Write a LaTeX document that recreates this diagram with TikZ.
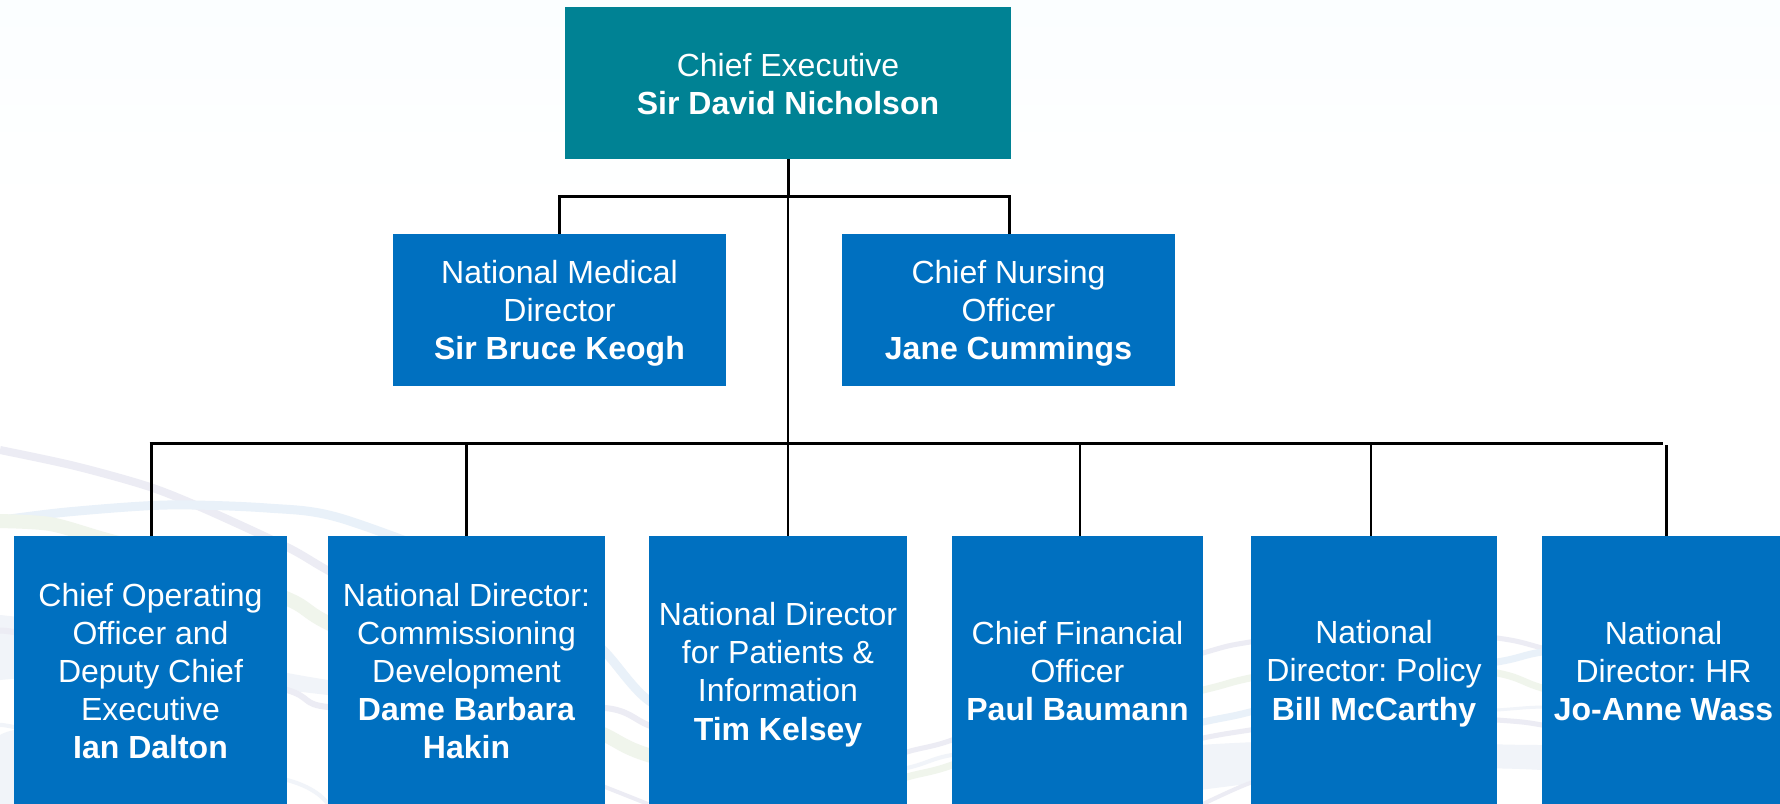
\documentclass[tikz,border=0pt]{standalone}
\usepackage{fontspec}
\setmainfont{Liberation Sans}
\definecolor{teal1}{HTML}{008294}
\definecolor{blue1}{HTML}{0070C0}
\definecolor{swL}{HTML}{ECECF4}
\definecolor{swB}{HTML}{E9F1F9}
\definecolor{swG}{HTML}{F0F5EC}
\definecolor{swP}{HTML}{F1F4F9}
\definecolor{bgtop}{HTML}{FBFEFF}
\tikzset{
  box/.style={draw=none,fill=blue1,text=white,inner sep=0pt,align=center,
    font=\fontsize{32bp}{38.2bp}\selectfont\frenchspacing,rectangle},
  heavy/.style={draw=black,line width=3.4bp},
  mid/.style={draw=black,line width=3bp},
  thin1/.style={draw=black,line width=2.4bp},
  swoosh/.style={line width=#1,line cap=butt},
  swoosh/.default=8bp
}
\newcommand{\dn}[1]{\rule{0pt}{\dimexpr 23.4bp+#1bp+#1bp\relax}}
\newcommand{\boxat}[7]{% name x0 y0 x1 y1 text style
  \node[box,#7,minimum width=#4bp-#2bp,minimum height=#5bp-#3bp] (#1) at ({(#2+#4)/2},{(#3+#5)/2}) {#6};}
\begin{document}
\begin{tikzpicture}[x=1bp,y=-1bp]
\useasboundingbox (0,0) rectangle (1780,804);
\fill[white] (0,0) rectangle (1780,804);
\shade[top color=bgtop,bottom color=white] (0,0) rectangle (1780,210);
% background swooshes
\fill[swP] (0,615) .. controls (100,625) and (200,660) .. (328,680) -- (328,695) .. controls (200,680) and (100,670) .. (0,680) -- cycle;
\fill[swP] (0,735) .. controls (5,732) and (10,731) .. (14,730) -- (14,804) -- (0,804) -- cycle;
\fill[swP] (1200,745) .. controls (1350,735) and (1450,745) .. (1542,745) -- (1542,770) .. controls (1450,765) and (1350,770) .. (1200,790) -- cycle;
\draw[swoosh=8bp,swL] plot[smooth] coordinates {(0,450) (75,466) (150,487) (207,510) (287,547) (327,570) (400,610)};
\draw[swoosh=9bp,swB] plot[smooth] coordinates {(-5,521) (67,512) (167,505) (267,508) (340,518) (480,570) (560,610) (605,652) (648,700) (720,740)};
\draw[swoosh=14bp,swG] plot[smooth] coordinates {(-5,521) (50,524) (107,540) (200,565) (290,600) (328,623) (450,680) (560,715) (605,735) (648,755) (780,790)};
\draw[swoosh=6bp,swL] plot[smooth] coordinates {(0,632) (14,632) (150,655) (287,690) (328,707) (480,710) (605,708) (648,725) (700,745)};
\draw[swoosh=5bp,swL] plot[smooth] coordinates {(860,770) (907,752) (952,740) (1050,700) (1203,653) (1250,642) (1370,625) (1497,638) (1542,648) (1620,670)};
\draw[swoosh=4bp,swP] plot[smooth] coordinates {(800,790) (907,768) (952,755) (1050,745)};
\draw[swoosh=7bp,swG] plot[smooth] coordinates {(850,795) (907,777) (952,765) (1050,725) (1203,690) (1250,678) (1370,655) (1497,673) (1542,688) (1640,715)};
\draw[swoosh=7bp,swB] plot[smooth] coordinates {(1050,755) (1203,722) (1250,712) (1370,680) (1497,662) (1542,652) (1640,640)};
\draw[swoosh=5bp,swL] plot[smooth] coordinates {(1100,760) (1203,738) (1250,730) (1370,712) (1497,720) (1542,725) (1640,745)};
\draw[swoosh=3bp,swP] plot[smooth] coordinates {(1300,725) (1497,710) (1542,707) (1640,705)};
\draw[swoosh=4bp,swL] plot[smooth] coordinates {(560,770) (605,787) (648,804)};
\draw[swoosh=4bp,swP] plot[smooth] coordinates {(0,725) (14,727) (100,745) (287,780) (328,804)};
\draw[swoosh=4bp,swL] plot[smooth] coordinates {(1203,804) (1250,783) (1300,770)};
% boxes
\boxat{top}{565}{7}{1011}{159}{\dn{1}Chief Executive\\\textbf{Sir David Nicholson}}{fill=teal1}
\boxat{med}{393}{234}{726}{386}{\dn{3}National Medical\\Director\\\textbf{Sir Bruce Keogh}}{}
\boxat{nur}{842}{234}{1175}{386}{\dn{3}Chief Nursing\\Officer\\\textbf{Jane Cummings}}{}
\boxat{coo}{14}{536}{287}{804}{\dn{1}Chief Operating\\Officer and\\Deputy Chief\\Executive\\\textbf{Ian Dalton}}{}
\boxat{com}{328}{536}{605}{804}{\dn{1}National Director:\\Commissioning\\Development\\\textbf{Dame Barbara}\\\textbf{Hakin}}{}
\boxat{pat}{649}{536}{907}{804}{\dn{4.5}National Director\\for Patients \&\\Information\\\textbf{Tim Kelsey}}{}
\boxat{cfo}{952}{536}{1203}{804}{\dn{1}Chief Financial\\Officer\\\textbf{Paul Baumann}}{}
\boxat{pol}{1251}{536}{1497}{804}{\dn{3.5}National\\Director: Policy\\\textbf{Bill McCarthy}}{}
\boxat{hr}{1542}{536}{1785}{804}{\dn{1}National\\Director: HR\\\textbf{Jo-Anne Wass}}{}
% junctions
\coordinate (trunk) at (788,196);
\coordinate (bar) at (788,443.5);
\coordinate (dmed) at (559,196);
\coordinate (dnur) at (1009,196);
\coordinate (d1) at (151,443.5);
\coordinate (d2) at (466,443.5);
\coordinate (d4) at (1080,443.5);
\coordinate (d5) at (1371,443.5);
\coordinate (d6) at (1666,445);
\coordinate (barend) at (1663,443.5);
% connectors
\draw[mid] (top.south -| trunk) -- (trunk);
\draw[thin1] (trunk) -- (bar);
\draw[thin1] (bar) -- (pat.north -| bar);
\draw[mid,line join=miter] (med.north -| dmed) -- (dmed) -- (dnur) -- (nur.north -| dnur);
\draw[heavy] ([xshift=-1.4bp]d1) -- (barend);
\draw[mid] ([yshift=-1.4bp]d1) -- (coo.north -| d1);
\draw[mid] (d2) -- (com.north -| d2);
\draw[thin1] (d4) -- (cfo.north -| d4);
\draw[thin1] (d5) -- (pol.north -| d5);
\draw[mid] (d6) -- (hr.north -| d6);
\end{tikzpicture}
\end{document}
